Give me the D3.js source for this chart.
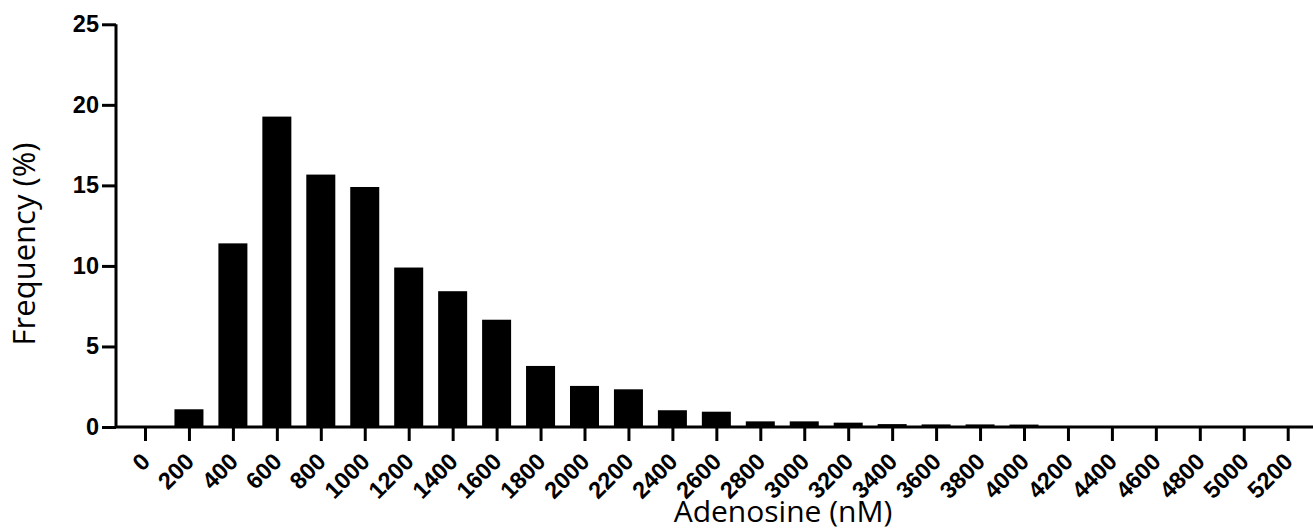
<!DOCTYPE html>
<html>
<head>
<meta charset="utf-8">
<script src="https://cdn.jsdelivr.net/npm/d3@7"></script>
<style>
  html, body { margin: 0; padding: 0; background: #fff; }
  #histogram { width: 1313px; height: 531px; }
</style>
</head>
<body>
<div id="histogram"></div>
<script>
'use strict'

// bin centres (nM) and frequency (%)
const bins = [0, 200, 400, 600, 800, 1000, 1200, 1400, 1600, 1800, 2000, 2200, 2400,
  2600, 2800, 3000, 3200, 3400, 3600, 3800, 4000, 4200, 4400, 4600, 4800, 5000, 5200];
const frequency = [0, 1.1, 11.4, 19.27, 15.67, 14.9, 9.9, 8.43, 6.66, 3.79, 2.55, 2.34, 1.04,
  0.95, 0.35, 0.35, 0.27, 0.18, 0.16, 0.16, 0.15, 0, 0, 0, 0, 0, 0];
const yTicks = [0, 5, 10, 15, 20, 25];

const xTitle = 'Adenosine (nM)';
const yTitle = 'Frequency (%)';

let histogram = ((options) => {

  ////////////////////////////////////////
  /////////////// Defaults ///////////////
  ////////////////////////////////////////

  let defaults = {
    selector: '#histogram',
    width: 1313,
    height: 531,
    axisLeft: 116,
    axisRight: 1313,
    firstTick: 145,
    step: 43.95,
    top: 24.3,
    bottom: 427,
    barRatio: 0.66,
    stroke: 3,
    tickSize: 14,
    tickFontSize: 23.5,
    tickFont: '"Liberation Sans", Arial, sans-serif',
    titleFont: '"Open Sans", sans-serif'
  }

  options = { ...defaults, ...options };

  const data = bins.map((b, i) => ({ bin: b, value: frequency[i] }));

  ////////////////////////////////////////
  ////////////// SVG Setup ///////////////
  ////////////////////////////////////////

  const svg = d3.select(options.selector)
    .append('svg')
    .attr('width', options.width)
    .attr('height', options.height)
    .attr('viewBox', `0 0 ${options.width} ${options.height}`);

  const x = d3.scaleLinear()
    .domain([0, d3.max(bins)])
    .range([options.firstTick, options.firstTick + options.step * (bins.length - 1)]);

  const y = d3.scaleLinear()
    .domain([0, 25])
    .range([options.bottom, options.top]);

  const barWidth = options.step * options.barRatio;

  ////////////////////////////////////////
  //////////////// Bars //////////////////
  ////////////////////////////////////////

  svg.selectAll('.bar')
    .data(data.filter(d => d.value > 0))
    .join('rect')
    .attr('x', d => x(d.bin) - barWidth / 2)
    .attr('y', d => y(d.value))
    .attr('width', barWidth)
    .attr('height', d => y(0) - y(d.value))
    .attr('fill', '#000')
    .classed('bar', true);

  ////////////////////////////////////////
  //////////////// Axes //////////////////
  ////////////////////////////////////////

  const xAxis = svg.append('g')
    .attr('transform', `translate(0,${options.bottom})`)
    .call(d3.axisBottom(x).tickValues(bins).tickSize(options.tickSize).tickSizeOuter(0).tickFormat(d3.format('d')));

  xAxis.select('.domain').remove();
  xAxis.append('line')
    .attr('x1', options.axisLeft)
    .attr('x2', options.axisRight)
    .attr('stroke', '#000')
    .attr('stroke-width', options.stroke);

  xAxis.selectAll('.tick line')
    .attr('stroke', '#000')
    .attr('stroke-width', options.stroke);

  xAxis.selectAll('.tick text')
    .attr('fill', '#000')
    .attr('font-family', options.tickFont)
    .attr('font-weight', 'bold')
    .attr('font-size', options.tickFontSize)
    .attr('text-anchor', 'end')
    .attr('dy', null)
    .attr('y', 0)
    .attr('transform', 'translate(6,36) rotate(-45)');

  const yAxis = svg.append('g')
    .attr('transform', `translate(${options.axisLeft},0)`)
    .call(d3.axisLeft(y).tickValues(yTicks).tickSize(options.tickSize).tickSizeOuter(0));

  yAxis.select('.domain')
    .attr('stroke', '#000')
    .attr('stroke-width', options.stroke)
    .attr('d', `M0,${options.top}V${options.bottom}`);

  yAxis.selectAll('.tick line')
    .attr('stroke', '#000')
    .attr('stroke-width', options.stroke);

  yAxis.selectAll('.tick text')
    .attr('fill', '#000')
    .attr('font-family', options.tickFont)
    .attr('font-weight', 'bold')
    .attr('font-size', options.tickFontSize)
    .attr('x', -options.tickSize - 3);

  ////////////////////////////////////////
  /////////////// Titles /////////////////
  ////////////////////////////////////////

  svg.append('text')
    .attr('x', 783)
    .attr('y', 522)
    .attr('text-anchor', 'middle')
    .attr('font-family', options.titleFont)
    .attr('font-size', 30)
    .attr('fill', '#000')
    .text(xTitle);

  svg.append('text')
    .attr('transform', 'translate(35,244) rotate(-90)')
    .attr('text-anchor', 'middle')
    .attr('font-family', options.titleFont)
    .attr('font-size', 31)
    .attr('fill', '#000')
    .text(yTitle);

});

histogram({});
</script>
</body>
</html>
